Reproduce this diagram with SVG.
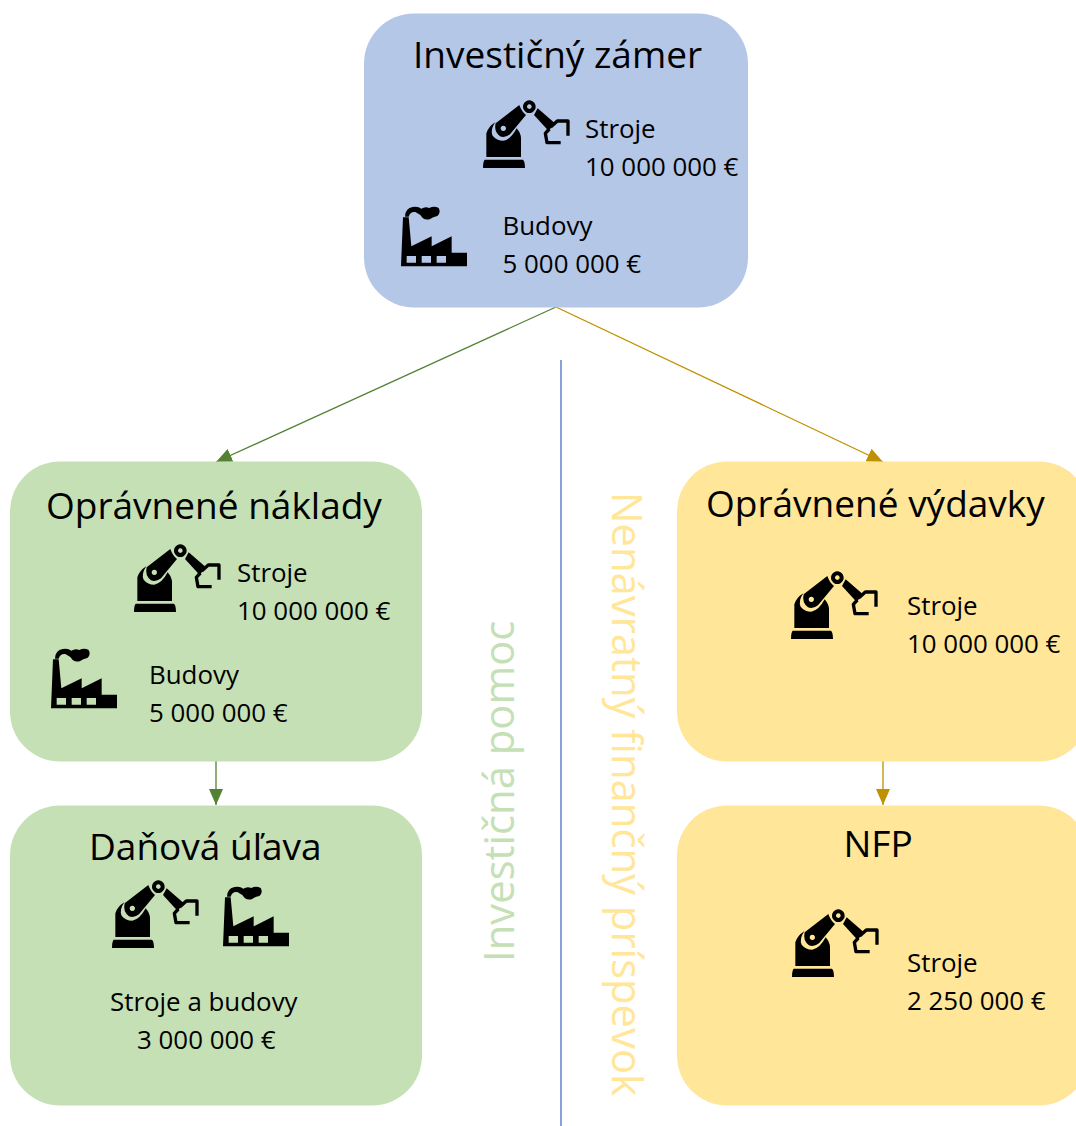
<svg xmlns="http://www.w3.org/2000/svg" xmlns:xlink="http://www.w3.org/1999/xlink" width="1076" height="1126" viewBox="0 0 1076 1126">
<style>
text{font-family:"Open Sans","Noto Sans","DejaVu Sans",sans-serif;fill:#000}
.t{font-size:37px}
.s{font-size:25.9px}
.c{fill:none;stroke-width:1.3}
.bl{fill:#B4C7E7}.gr{fill:#C5E0B4}.ye{fill:#FFE699}
</style>
<defs>
<marker id="ag" markerUnits="userSpaceOnUse" markerWidth="18" markerHeight="16" refX="16" refY="7" orient="auto"><path d="M0 0L16 7L0 14Z" fill="#548235"/></marker>
<marker id="ay" markerUnits="userSpaceOnUse" markerWidth="18" markerHeight="16" refX="16" refY="7" orient="auto"><path d="M0 0L16 7L0 14Z" fill="#BF9000"/></marker>
<g id="robot" transform="scale(.3333) translate(-9,-15)">
<path d="M14 194H129Q135 200 135 219H9Q9 200 14 194Z"/>
<path d="M19 186V115Q25 95 46 82Q30 105 38 122Q50 137 70 137Q92 134 110 100Q123 115 123 130V186Z"/>
<path fill-rule="evenodd" d="M47 85L118 30Q125 50 138 60L90 118Q75 130 60 124Q41 110 47 85ZM70 92a8 8 0 1 0 .01 0Z"/>
<path fill-rule="evenodd" d="M148 16a19 19 0 1 0 .01 0ZM148 28a7 7 0 1 1 -.01 0Z"/>
<path d="M173 40L224 84L206 108L162 60Z"/>
<path d="M212 96L232 78H264V122M208 102L196 115L201 143H242" fill="none" stroke="#000" stroke-width="10" stroke-linejoin="round"/>
</g>
<g id="factory" transform="scale(.3333) translate(-15,-15)">
<path fill-rule="evenodd" d="M15 193L21 46H38L46 133L107 103V133L167 103V152H213V193ZM32 162V182H60V162ZM77 162V182H105V162ZM122 162V182H150V162Z"/>
<path d="M27 44Q28 18 50 15Q66 12 76 20Q88 12 100 18Q115 10 128 18Q136 32 124 42Q110 45 104 50Q92 56 80 48Q72 36 58 30Q42 28 38 44Z"/>
</g>
</defs>
<g id="connectors">
<line x1="561" y1="360" x2="561" y2="1126" stroke="#4472C4" stroke-width="1.3"/>
<line class="c" x1="556" y1="307" x2="216" y2="462" stroke="#548235" marker-end="url(#ag)"/>
<line class="c" x1="556" y1="307" x2="883" y2="462" stroke="#BF9000" marker-end="url(#ay)"/>
<line class="c" x1="216" y1="761" x2="216" y2="805" stroke="#548235" marker-end="url(#ag)"/>
<line class="c" x1="883" y1="761" x2="883" y2="805" stroke="#BF9000" marker-end="url(#ay)"/>
</g>
<g id="node-zamer">
<rect class="bl" x="364" y="13.5" width="384" height="294" rx="50"/>
<text class="t" x="413" y="68">Investičný zámer</text>
<use xlink:href="#robot" href="#robot" transform="translate(483,100)"/>
<text class="s" x="585" y="138">Stroje</text>
<text class="s" x="585" y="176">10 000 000 €</text>
<use xlink:href="#factory" href="#factory" transform="translate(401,207)"/>
<text class="s" x="502.5" y="235">Budovy</text>
<text class="s" x="502.5" y="273">5 000 000 €</text>
</g>
<g id="node-naklady">
<rect class="gr" x="10" y="461.5" width="412" height="300" rx="50"/>
<text class="t" x="46" y="518.5">Oprávnené náklady</text>
<use xlink:href="#robot" href="#robot" transform="translate(134,544)"/>
<text class="s" x="237" y="582">Stroje</text>
<text class="s" x="237" y="620">10 000 000 €</text>
<use xlink:href="#factory" href="#factory" transform="translate(51,649)"/>
<text class="s" x="149" y="684">Budovy</text>
<text class="s" x="149" y="722">5 000 000 €</text>
</g>
<g id="node-uľava">
<rect class="gr" x="10" y="805.5" width="412" height="300" rx="50"/>
<text class="t" x="89" y="860">Daňová úľava</text>
<use xlink:href="#robot" href="#robot" transform="translate(112,880)"/>
<use xlink:href="#factory" href="#factory" transform="translate(223,887)"/>
<text class="s" x="110" y="1011">Stroje a budovy</text>
<text class="s" x="137" y="1049">3 000 000 €</text>
</g>
<g id="node-vydavky">
<rect class="ye" x="677" y="461.5" width="412" height="300" rx="50"/>
<text class="t" x="706" y="517">Oprávnené výdavky</text>
<use xlink:href="#robot" href="#robot" transform="translate(791,571)"/>
<text class="s" x="907" y="615">Stroje</text>
<text class="s" x="907" y="653">10 000 000 €</text>
</g>
<g id="node-nfp">
<rect class="ye" x="677" y="805.5" width="412" height="300" rx="50"/>
<text class="t" x="843.5" y="857">NFP</text>
<use xlink:href="#robot" href="#robot" transform="translate(792,909)"/>
<text class="s" x="907" y="972">Stroje</text>
<text class="s" x="907" y="1010">2 250 000 €</text>
</g>
<g id="labels">
<text transform="translate(514,962) rotate(-90)" font-size="41.8" style="fill:#C5E0B4">Investičná pomoc</text>
<text transform="translate(612,492) rotate(90)" font-size="41.8" style="fill:#FFE699">Nenávratný finančný príspevok</text>
</g>
</svg>
